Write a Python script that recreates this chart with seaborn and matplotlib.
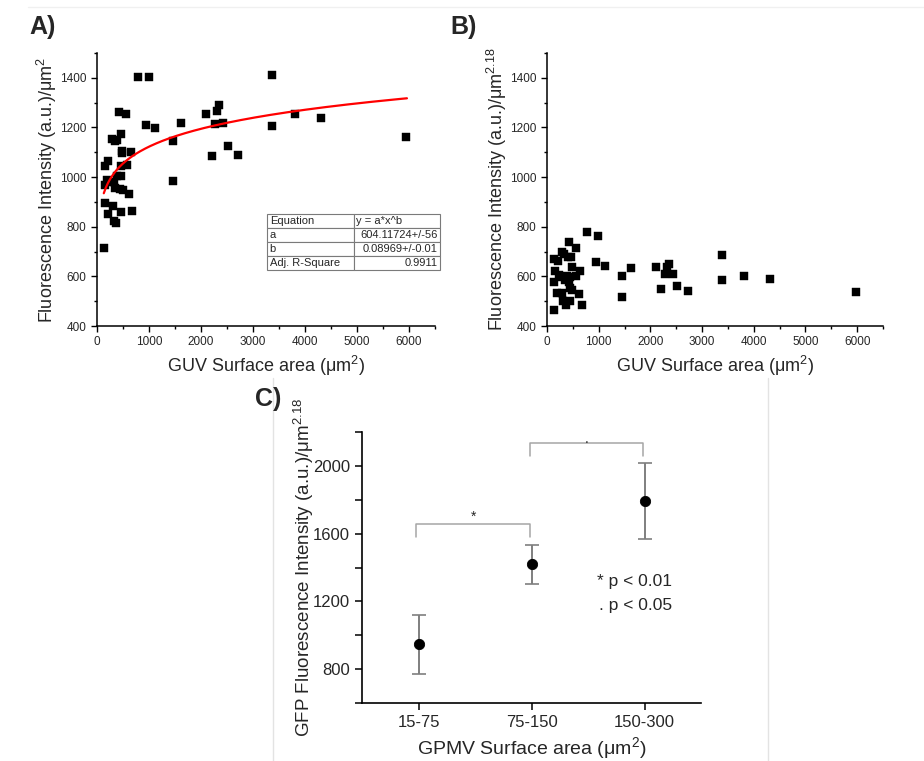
import numpy as np
import matplotlib
matplotlib.use('Agg')
import matplotlib.pyplot as plt
import seaborn as sns
from matplotlib.lines import Line2D
from matplotlib.ticker import MultipleLocator

# A) GUV surface area (um^2) vs intensity per um^2
area_a = [140, 148, 148, 160, 192, 205, 218, 256, 288, 302, 327, 333, 340, 352, 371,
          378, 385, 417, 448, 467, 467, 467, 467, 481, 481, 494, 552, 571, 615, 654,
          673, 782, 994, 942, 1115, 1455, 1455, 1615, 2096, 2205, 2275, 2313, 2352,
          2429, 2513, 2717, 3371, 3371, 3801, 4302, 5942]
intens_a = [715, 1043, 968, 896, 987, 853, 1064, 979, 1152, 885, 824, 981, 957, 1147, 815,
            1005, 1151, 1261, 952, 1173, 1045, 1005, 861, 1104, 1096, 947, 1253, 1048, 931, 1101,
            863, 1403, 1403, 1208, 1197, 1144, 984, 1216, 1255, 1084, 1213, 1267, 1292,
            1219, 1124, 1088, 1413, 1204, 1253, 1236, 1163]

# power fit shown in the table
fit_a = 604.11724
fit_b = 0.08969
table_rows = [['Equation', 'y = a*x^b'],
              ['a', '604.11724+/-56'],
              ['b', '0.08969+/-0.01'],
              ['Adj. R-Square', '0.9911']]

# B) same GUVs, intensity per um^2.18
area_b = [142, 219, 284, 323, 400, 464, 490, 161, 644, 232, 296, 387, 451, 567, 142,
          348, 420, 439, 477, 193, 284, 619, 309, 451, 373, 671, 142, 419, 555,
          774, 993, 942, 1122, 1625, 1456, 1460, 2102, 2360, 2327, 2282, 2443, 2211,
          2520, 2721, 3385, 3385, 3816, 4319, 5971]
intens_b = [671, 660, 697, 691, 680, 680, 636, 621, 620, 604, 597, 600, 597, 600, 577,
            587, 579, 555, 544, 535, 535, 528, 501, 501, 485, 485, 464, 739, 716,
            777, 761, 657, 643, 632, 600, 516, 637, 651, 639, 611, 611, 549,
            563, 541, 688, 587, 603, 589, 539]

# C) GPMV size classes
gpmv_bins = ['15-75', '75-150', '150-300']
gpmv_mean = [947, 1418, 1793]
gpmv_err = [175, 114, 226]

sns.set_style('ticks')
plt.rcParams['font.family'] = ['Liberation Sans', 'DejaVu Sans']
plt.rcParams['mathtext.fontset'] = 'custom'
plt.rcParams['mathtext.rm'] = 'Liberation Sans'
plt.rcParams['mathtext.it'] = 'Liberation Sans:italic'

fig = plt.figure(figsize=(9.24, 7.61), dpi=100)
axA = fig.add_axes([0.105, 0.5716, 0.3658, 0.3588])
axB = fig.add_axes([0.592, 0.5716, 0.3636, 0.3588])
axC = fig.add_axes([0.3918, 0.0762, 0.3669, 0.3561])


def style_scatter_ax(ax, ylab):
    ax.set_xlim(0, 6500)
    ax.set_ylim(400, 1500)
    ax.xaxis.set_major_locator(MultipleLocator(1000))
    ax.xaxis.set_minor_locator(MultipleLocator(500))
    ax.yaxis.set_major_locator(MultipleLocator(200))
    ax.yaxis.set_minor_locator(MultipleLocator(100))
    ax.set_yticks(range(400, 1401, 200))
    ax.tick_params(which='major', length=4, width=1, labelsize=8.5, color='k')
    ax.tick_params(which='minor', length=2.5, width=1, color='k')
    for s in ['top', 'right']:
        ax.spines[s].set_visible(False)
    for s in ['left', 'bottom']:
        ax.spines[s].set_linewidth(1.1)
        ax.spines[s].set_color('k')
    ax.set_xlabel('GUV Surface area (\u03bcm$^2$)', fontsize=13)
    ax.set_ylabel(ylab, fontsize=13, labelpad=1)


# panel A
sns.scatterplot(x=area_a, y=intens_a, ax=axA, marker='s', s=36, color='black',
                edgecolor='black', linewidth=0.3, zorder=3)
fx = np.linspace(130, 5960, 300)
sns.lineplot(x=fx, y=fit_a * fx ** fit_b, ax=axA, color='red', lw=1.6, zorder=4)
style_scatter_ax(axA, 'Fluorescence Intensity (a.u.)/\u03bcm$^2$')

tbl = axA.table(cellText=table_rows, bbox=[0.503, 0.205, 0.512, 0.205],
                cellLoc='left', colWidths=[0.5, 0.5])
tbl.auto_set_font_size(False)
tbl.set_fontsize(8)
for (r, c), cell in tbl.get_celld().items():
    cell.set_edgecolor('#7a7a7a')
    cell.set_linewidth(0.8)
    cell.PAD = 0.03
    if c == 1 and r > 0:
        cell._loc = 'right'
        cell.get_text().set_ha('right')

# panel B
sns.scatterplot(x=area_b, y=intens_b, ax=axB, marker='s', s=36, color='black',
                edgecolor='black', linewidth=0.3, zorder=3)
style_scatter_ax(axB, 'Fluorescence Intensity (a.u.)/\u03bcm$^{2.18}$')

# panel C
sns.scatterplot(x=gpmv_bins, y=gpmv_mean, ax=axC, s=55, color='black',
                edgecolor='black', zorder=4)
axC.errorbar(range(len(gpmv_bins)), gpmv_mean, yerr=gpmv_err, fmt='none',
             ecolor='#7f7f7f', elinewidth=1.4, capsize=5, capthick=1.2, zorder=3)
axC.set_xlim(-0.5, 2.5)
axC.set_ylim(600, 2200)
axC.set_yticks([800, 1200, 1600, 2000])
axC.yaxis.set_minor_locator(MultipleLocator(200))
axC.tick_params(which='major', length=5, width=1.1, labelsize=12, color='k')
axC.tick_params(which='minor', length=5, width=1.1, color='k')
axC.tick_params(axis='x', which='minor', length=0)
for s in ['top', 'right']:
    axC.spines[s].set_visible(False)
for s in ['left', 'bottom']:
    axC.spines[s].set_linewidth(1.2)
    axC.spines[s].set_color('k')
axC.set_xlabel('GPMV Surface area (\u03bcm$^2$)', fontsize=14, labelpad=4)
axC.set_ylabel('GFP Fluorescence Intensity (a.u.)/\u03bcm$^{2.18}$', fontsize=13.5, labelpad=-2)

br = '#a6a6a6'
axC.plot([-0.02, -0.02, 0.99, 0.99], [1579, 1655, 1655, 1579], color=br, lw=1.1)
axC.plot([0.99, 0.99, 1.99, 1.99], [2059, 2134, 2134, 2059], color=br, lw=1.1)
axC.text(0.485, 1700, '*', ha='center', va='center', fontsize=10)
axC.text(1.49, 2160, '.', ha='center', va='center', fontsize=10)
axC.text(1.58, 1319, '* p < 0.01', ha='left', va='center', fontsize=12.5)
axC.text(1.60, 1176, '. p < 0.05', ha='left', va='center', fontsize=12.5)

# panel letters
fig.text(0.032, 0.965, 'A)', fontsize=18, fontweight='bold', va='center')
fig.text(0.487, 0.965, 'B)', fontsize=18, fontweight='bold', va='center')
fig.text(0.276, 0.476, 'C)', fontsize=18, fontweight='bold', va='center')

# faint panel frame lines
for xl in [273 / 924, 768 / 924]:
    fig.add_artist(Line2D([xl, xl], [0, 1 - 378 / 761], color='#e3e3e3', lw=1))
fig.add_artist(Line2D([0.03, 1], [1 - 7 / 761, 1 - 7 / 761], color='#f0f0f0', lw=1))

fig.savefig('out.png', dpi=100)
